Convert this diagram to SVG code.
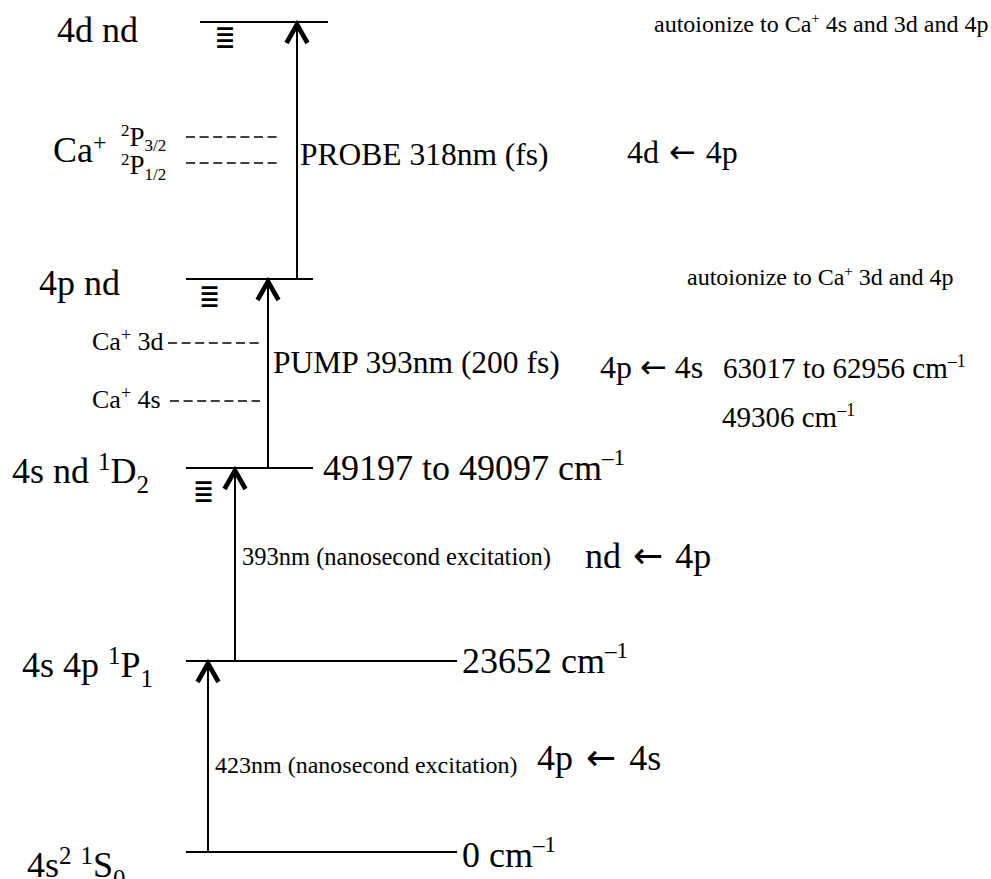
<svg xmlns="http://www.w3.org/2000/svg" xmlns:xlink="http://www.w3.org/1999/xlink" width="991" height="879" viewBox="0 0 991 879">
<style>
text{font-family:"Liberation Serif","Times New Roman",serif;fill:#000}
.big{font-size:36px}
.mid{font-size:31.5px}
.sm{font-size:24px}
.ar{font-family:"DejaVu Sans",sans-serif}
.lvl{stroke:#000;stroke-width:2;fill:none}
.dash{stroke:#000;stroke-width:1.6;stroke-dasharray:9 4.6;fill:none}
.tr{stroke:#000;stroke-width:2;fill:none}
.chev{stroke:#000;stroke-width:4.6;fill:none;stroke-linejoin:miter}
.eq{font-family:"DejaVu Sans",sans-serif;font-size:22px}
</style>
<defs>
<path id="chev" class="chev" d="M-10.5 21 L0 2.5 L10.5 21"/>
</defs>
<rect width="991" height="879" fill="#fff"/>

<g id="level-4dnd">
<line class="lvl" x1="200" y1="22" x2="328" y2="22"/>
<text class="eq" x="225" y="48" text-anchor="middle" transform="translate(225 48) scale(1.15 1.5) translate(-225 -48)">≣</text>
<text class="big" x="57" y="42">4d nd</text>
</g>

<g id="ion-limits-2P">
<line class="dash" x1="186" y1="137" x2="277" y2="137"/>
<line class="dash" x1="186" y1="163" x2="277" y2="163"/>
<text class="big" x="53" y="162">Ca<tspan font-size="24" dy="-12">+</tspan></text>
<text x="121" y="146" font-size="27"><tspan font-size="17" dy="-10">2</tspan><tspan dy="10">P</tspan><tspan font-size="17" dy="5">3/2</tspan></text>
<text x="121" y="174" font-size="27"><tspan font-size="17" dy="-9">2</tspan><tspan dy="9">P</tspan><tspan font-size="17" dy="6">1/2</tspan></text>
</g>

<g id="level-4pnd">
<line class="lvl" x1="186" y1="279" x2="313" y2="279"/>
<text class="eq" x="209.5" y="307" text-anchor="middle" transform="translate(209.5 307) scale(1.15 1.5) translate(-209.5 -307)">≣</text>
<text class="big" x="39" y="295">4p nd</text>
</g>

<g id="ion-limits-3d-4s">
<line class="dash" x1="168" y1="343" x2="260" y2="343"/>
<line class="dash" x1="170" y1="401" x2="260" y2="401"/>
<text x="92" y="350" font-size="26">Ca<tspan font-size="18" dy="-9">+</tspan><tspan dy="9"> 3d</tspan></text>
<text x="92" y="408" font-size="26">Ca<tspan font-size="18" dy="-9">+</tspan><tspan dy="9"> 4s</tspan></text>
</g>

<g id="level-4snd">
<line class="lvl" x1="186" y1="468" x2="313" y2="468"/>
<text class="eq" x="203.5" y="502" text-anchor="middle" transform="translate(203.5 502) scale(1.15 1.5) translate(-203.5 -502)">≣</text>
<text class="big" x="12" y="483">4s nd <tspan font-size="25" dy="-13">1</tspan><tspan dy="13">D</tspan><tspan font-size="25" dy="10">2</tspan></text>
<text class="big" x="323" y="480">49197 to 49097 cm<tspan font-size="23" dy="-15">–1</tspan></text>
</g>

<g id="level-4s4p">
<line class="lvl" x1="186" y1="661" x2="457" y2="661"/>
<text class="big" x="22" y="677">4s 4p <tspan font-size="25" dy="-13">1</tspan><tspan dy="13">P</tspan><tspan font-size="25" dy="10">1</tspan></text>
<text class="big" x="462" y="673">23652 cm<tspan font-size="23" dy="-15">–1</tspan></text>
</g>

<g id="level-ground">
<line class="lvl" x1="186" y1="852" x2="457" y2="852"/>
<text class="big" x="27" y="877">4s<tspan font-size="25" dy="-13">2</tspan><tspan dy="13"> </tspan><tspan font-size="25" dy="-13">1</tspan><tspan dy="13">S</tspan><tspan font-size="25" dy="10">0</tspan></text>
<text class="big" x="462" y="867">0 cm<tspan font-size="23" dy="-15">–1</tspan></text>
</g>

<g id="connectors">
<line class="tr" x1="208" y1="852" x2="208" y2="663"/>
<use xlink:href="#chev" x="208" y="661"/>
<line class="tr" x1="235" y1="661" x2="235" y2="470"/>
<use xlink:href="#chev" x="235" y="468"/>
<line class="tr" x1="268" y1="468" x2="268" y2="281"/>
<use xlink:href="#chev" x="268" y="279"/>
<line class="tr" x1="297" y1="279" x2="297" y2="24"/>
<use xlink:href="#chev" x="297" y="22"/>
</g>

<g id="labels">
<text class="mid" x="300" y="165">PROBE 318nm (fs)</text>
<text x="627" y="163" font-size="32" word-spacing="2">4d <tspan class="ar">←</tspan> 4p</text>
<text class="sm" x="654" y="32">autoionize to Ca<tspan font-size="15" dy="-9">+</tspan><tspan dy="9"> 4s and 3d and 4p</tspan></text>
<text class="sm" x="687" y="285">autoionize to Ca<tspan font-size="15" dy="-9">+</tspan><tspan dy="9"> 3d and 4p</tspan></text>
<text class="mid" x="273" y="373">PUMP 393nm (200 fs)</text>
<text x="600" y="378" font-size="32">4p <tspan class="ar">←</tspan> 4s</text>
<text x="723" y="378" font-size="29">63017 to 62956 cm<tspan font-size="18" dy="-11">–1</tspan></text>
<text x="722" y="427" font-size="29">49306 cm<tspan font-size="18" dy="-11">–1</tspan></text>
<text x="242" y="565" font-size="24.5">393nm (nanosecond excitation)</text>
<text class="big" x="585" y="568" word-spacing="3">nd <tspan class="ar">←</tspan> 4p</text>
<text x="215" y="773" font-size="24">423nm (nanosecond excitation)</text>
<text class="big" x="537" y="770" word-spacing="4">4p <tspan class="ar">←</tspan> 4s</text>
</g>
</svg>
